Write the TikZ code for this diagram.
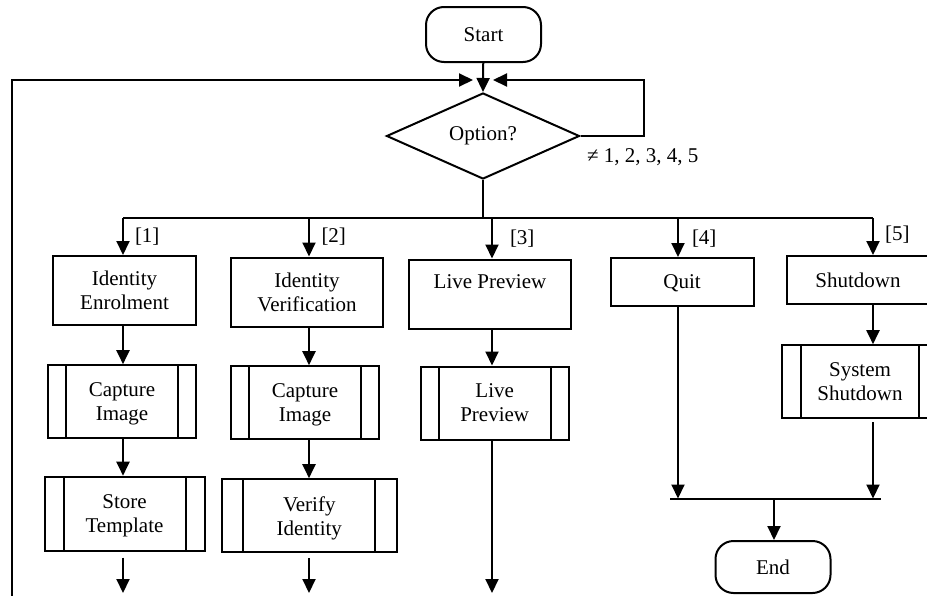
\documentclass[tikz,border=0pt]{standalone}
\usepackage{fontspec}
\setmainfont{Liberation Serif}
\usetikzlibrary{arrows.meta,shapes.geometric}
\begin{document}
\begin{tikzpicture}[x=0.5pt,y=-0.5pt, line width=1pt,
  font=\fontsize{10.5}{12}\selectfont,
  arr/.style={-{Triangle[length=7pt,width=6.5pt]}},
  box/.style={draw, rectangle, align=center, inner sep=0pt, text depth=0pt},
  term/.style={draw, rectangle, rounded corners=9pt, inner sep=0pt},
  subproc/.style={box, path picture={
    \draw ([xshift=#1]path picture bounding box.north west) -- ([xshift=#1]path picture bounding box.south west);
    \draw ([xshift=-#1]path picture bounding box.north east) -- ([xshift=-#1]path picture bounding box.south east);}},
  lbl/.style={anchor=west, inner sep=0pt}
]
\useasboundingbox (0,0) rectangle (927,595);
\clip (0,0) rectangle (927,595);

% terminals and decision
\node[term, minimum width=57.5pt, minimum height=27.5pt] (start) at (483.5,34.5) {Start};
\node[draw, diamond, inner sep=0pt, minimum width=96.5pt, minimum height=42.5pt] (opt) at (483,136) {Option?};
\node[lbl] (neq) at (586,157) {≠ 1, 2, 3, 4, 5};

% first row
\node[box, minimum width=71.5pt, minimum height=34.5pt] (box1) at (124.5,290.5) {Identity\\Enrolment};
\node[box, minimum width=76pt, minimum height=34.5pt] (box2) at (307,292) {Identity\\Verification};
\node[box, minimum width=81pt, minimum height=34.5pt] (box3) at (490,294) {Live Preview\\\strut};
\node[box, minimum width=71.5pt, minimum height=24pt] (quit) at (682,282) {Quit};
\node[box, minimum width=71pt, minimum height=24pt] (shut) at (858,280) {Shutdown};

% second row
\node[subproc=9pt, minimum width=74pt, minimum height=36.5pt] (cap1) at (122,401.7) {Capture\\Image};
\node[subproc=9pt, minimum width=74pt, minimum height=36.5pt] (cap2) at (305,402.7) {Capture\\Image};
\node[subproc=9pt, minimum width=74pt, minimum height=36.5pt] (lp2) at (494.7,403) {Live\\Preview};
\node[subproc=9.6pt, minimum width=78.5pt, minimum height=36.5pt] (sys) at (860,381.7) {System\\Shutdown};

% third row
\node[subproc=9.5pt, minimum width=80pt, minimum height=37pt] (store) at (124.5,513.7) {Store\\Template};
\node[subproc=10.7pt, minimum width=87.5pt, minimum height=36.5pt] (verify) at (309.3,515.7) {Verify\\Identity};

\node[term, minimum width=57.5pt, minimum height=26pt] (end) at (773,567) {End};

% branch coordinates
\coordinate (bj) at (483,218);
\coordinate (c1) at (123,218);
\coordinate (c2) at (309,218);
\coordinate (c3) at (492,218);
\coordinate (c4) at (678,218);
\coordinate (c5) at (873,218);

% labels
\node[lbl] (l1) at (134,237) {[1]};
\node[lbl] (l2) at (320.5,237) {[2]};
\node[lbl] (l3) at (509,239) {[3]};
\node[lbl] (l4) at (691,239) {[4]};
\node[lbl] (l5) at (884,235) {[5]};

% start and loops
\coordinate (jl) at (473,80);
\coordinate (jr) at (493,80);
\coordinate (lb) at (12,600);
\coordinate (lt) at (12,80);
\coordinate (rc) at (644,80);
\draw[arr] (start) -- (opt.north);
\draw[arr] (lb) -- (lt) -- (jl);
\draw[arr] (opt.east) -| (rc) -- (jr);

% branch
\draw (opt.south) -- (bj);
\draw (c1) -- (c5);
\draw[arr] (c1) -- (box1.north -| c1);
\draw[arr] (c2) -- (box2.north -| c2);
\draw[arr] (c3) -- (box3.north -| c3);
\draw[arr] (c4) -- (quit.north -| c4);
\draw[arr] (c5) -- (shut.north -| c5);

% column ends
\coordinate (e1) at (123,593);
\coordinate (e2) at (309,593);
\coordinate (e3) at (492,593);
\coordinate (j4) at (678,498.5);
\coordinate (j5) at (873,498.5);
\coordinate (ja) at (670,498.5);
\coordinate (jb) at (881,498.5);
\coordinate (jm) at (774,498.5);

% column 1
\draw[arr] (box1.south -| c1) -- (cap1.north -| c1);
\draw[arr] (cap1.south -| c1) -- (store.north -| c1);
\draw[arr] ([yshift=-3pt]store.south -| c1) -- (e1);
% column 2
\draw[arr] (box2.south -| c2) -- (cap2.north -| c2);
\draw[arr] (cap2.south -| c2) -- (verify.north -| c2);
\draw[arr] ([yshift=-2.5pt]verify.south -| c2) -- (e2);
% column 3
\draw[arr] (box3.south -| c3) -- (lp2.north -| c3);
\draw[arr] (lp2.south -| c3) -- (e3);
% column 4
\draw[arr] (quit.south -| c4) -- (j4);
% column 5
\draw[arr] (shut.south -| c5) -- (sys.north -| c5);
\draw[arr] ([yshift=-1.5pt]sys.south -| c5) -- (j5);
% junction
\draw (ja) -- (jb);
\draw[arr] (jm) -- (end.north -| jm);
\end{tikzpicture}
\end{document}
